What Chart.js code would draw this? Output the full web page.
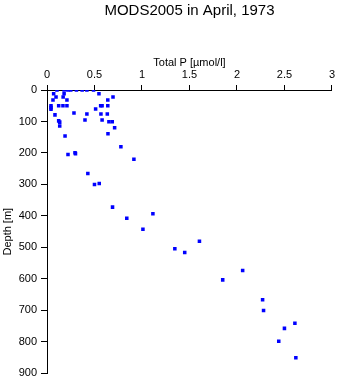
<!DOCTYPE html>
<html>
<head>
<meta charset="utf-8">
<script src="https://cdn.jsdelivr.net/npm/chart.js@4"></script>
<style>
  body { margin: 0; background: #fff; }
</style>
</head>
<body>
<canvas id="grafico" width="338" height="384"></canvas>
<script>
// DATOS:
const totalP = [0.105, 0.18, 0.22, 0.25, 0.31, 0.37, 0.42, 0.49,
    0.07, 0.18, 0.547, 0.095, 0.17, 0.695, 0.063, 0.21, 0.64,
    0.042, 0.042, 0.042, 0.123, 0.168, 0.21, 0.565, 0.58, 0.64, 0.512,
    0.284, 0.084, 0.42, 0.568, 0.635, 0.40, 0.58, 0.123, 0.134, 0.652, 0.687,
    0.134, 0.712, 0.642, 0.19, 0.778, 0.295, 0.30, 0.221, 0.915,
    0.43, 0.50, 0.55, 0.69, 0.84, 1.115, 1.01, 1.605, 1.346, 1.45,
    2.06, 1.85, 2.27, 2.28, 2.61, 2.50, 2.44, 2.62];
const depth = [0, 0, 0, 0, 0, 0, 0, 0,
    12, 12, 12, 22, 22, 22, 32, 32, 32,
    50, 56, 61, 50, 50, 50, 50, 50, 50, 60,
    73, 79, 76, 76, 76, 95, 95, 98, 102, 101, 101,
    114, 120, 139, 146, 180, 199, 202, 205, 220,
    265, 300, 297, 372, 407, 393, 442, 480, 504, 516,
    573, 603, 666, 700, 741, 757, 798, 850];
const titulo = "MODS2005 in April, 1973";

const puntos = totalP.map(function(p, i) {
    return { x: p, y: depth[i] };
});

const fuente = "'Liberation Sans', Arial, sans-serif";

// titulo centrado sobre el area del grafico
const tituloCentrado = {
    id: "tituloCentrado",
    afterDraw: function(chart) {
        const ctx = chart.ctx;
        const area = chart.chartArea;
        ctx.save();
        ctx.fillStyle = "#000";
        ctx.font = "15px " + fuente;
        ctx.textAlign = "center";
        ctx.textBaseline = "middle";
        ctx.fillText(titulo, (area.left + area.right) / 2, 11);
        ctx.restore();
    }
};

new Chart(document.getElementById("grafico").getContext("2d"), {
    type: "scatter",
    data: {
        datasets: [{
            data: puntos,
            pointStyle: "rect",
            pointRadius: 2.5,
            pointBorderWidth: 0,
            backgroundColor: "#0000ff",
            borderColor: "#0000ff"
        }]
    },
    plugins: [tituloCentrado],
    options: {
        responsive: false,
        animation: false,
        layout: { padding: { left: 0, right: 5, top: 54, bottom: 8 } },
        plugins: {
            legend: { display: false },
            tooltip: { enabled: false },
            title: { display: false }
        },
        scales: {
            x: {
                type: "linear",
                position: "top",
                min: 0,
                max: 3,
                ticks: { stepSize: 0.5, color: "#000", padding: 3, maxRotation: 0,
                    font: { family: fuente, size: 11 },
                    callback: function(valor) { return String(valor); } },
                grid: { drawOnChartArea: false, tickLength: 5, color: "#000" },
                border: { color: "#000" },
                title: { display: true, text: "Total P [\u00b5mol/l]", color: "#000",
                    font: { family: fuente, size: 11 }, padding: { top: 2, bottom: 0 } },
                afterFit: function(scale) { scale.height = 36; }
            },
            y: {
                type: "linear",
                reverse: true,
                min: 0,
                max: 900,
                ticks: { stepSize: 100, color: "#000", padding: 4, autoSkip: false,
                    font: { family: fuente, size: 11 },
                    callback: function(valor) { return String(valor); } },
                grid: { drawOnChartArea: false, tickLength: 6, color: "#000" },
                border: { color: "#000" },
                title: { display: true, text: "Depth [m]", color: "#000",
                    font: { family: fuente, size: 11 }, padding: { top: 1, bottom: 0 } },
                afterFit: function(scale) { scale.width = 47; }
            }
        }
    }
});
</script>
</body>
</html>
